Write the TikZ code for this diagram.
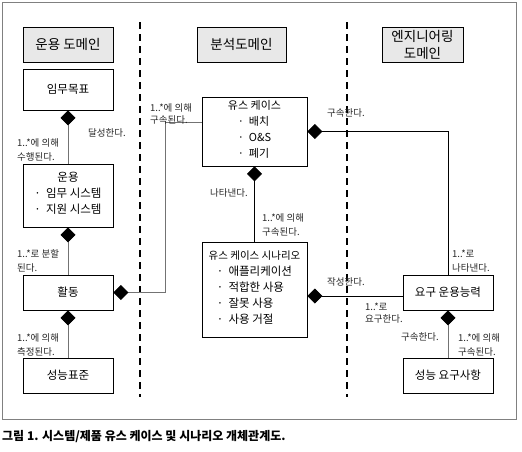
\documentclass[tikz,border=0pt]{standalone}
\usepackage{fontspec}
\setmainfont{Noto Sans CJK KR}
\usetikzlibrary{arrows.meta}
\begin{document}
\begin{tikzpicture}[x=1pt,y=-1pt,
 box/.style={draw, line width=0.7pt, inner sep=0pt, align=center, font=\fontsize{11.5}{16}\selectfont},
 hdr/.style={box, fill=black!9, font=\fontsize{13.5}{17}\selectfont},
 lbl/.style={inner sep=0pt, anchor=west, align=left, text=black!85, font=\fontsize{9.5}{14}\selectfont},
 conn/.style={line width=0.8pt, draw=black!55},
 dia/.style={conn, {Diamond[length=15pt,width=15pt,color=black]}-},
 diak/.style={dia, draw=black, line width=0.7pt},
 dom/.style={line width=1.6pt, dash pattern=on 7pt off 5pt}
]
\useasboundingbox (0,0) rectangle (522,451);
\draw[black!50, line width=0.8pt] (2,2) rectangle (516,419);
% domain separators
\draw[dom] (140,22) -- (140,397);
\draw[dom] (347,22) -- (347,397);
% headers
\node[hdr, minimum width=90pt, minimum height=35pt] (h1) at (68,44.5) {운용 도메인};
\node[hdr, minimum width=89pt, minimum height=35pt] (h2) at (241.5,44.5) {분석도메인};
\node[hdr, minimum width=81pt, minimum height=35pt] (h3) at (422.5,44.5) {엔지니어링\\도메인};
% left column
\node[box, minimum width=90pt, minimum height=41pt] (goal) at (68,89.5) {임무목표};
\node[box, minimum width=90pt, minimum height=63pt] (ops) at (68,195.5) {운용\\\begin{tabular}[t]{@{}l@{}}·\ \ 임무 시스템\\·\ \ 지원 시스템\end{tabular}};
\node[box, minimum width=90pt, minimum height=35pt] (act) at (68,292.5) {활동};
\node[box, minimum width=90pt, minimum height=35pt] (std) at (68,375.5) {성능표준};
% middle column
\node[box, font=\fontsize{11}{16}\selectfont, minimum width=105pt, minimum height=69pt] (uc) at (254.5,131.5) {유스 케이스\\\begin{tabular}[t]{@{}l@{}}·\ \ 배치\\·\ \ O\&S\\·\ \ 폐기\end{tabular}};
\node[box, minimum width=105pt, minimum height=95pt] (scen) at (254.5,289.5) {{\fontsize{10.5}{16}\selectfont 유스 케이스 시나리오}\\\begin{tabular}[t]{@{}l@{}}·\ \ 애플리케이션\\·\ \ 적합한 사용\\·\ \ 잘못 사용\\·\ \ 사용 거절\end{tabular}};
% right column
\node[box, minimum width=90pt, minimum height=35pt] (req) at (448,292.5) {요구 운용능력};
\node[box, minimum width=90pt, minimum height=35pt] (perf) at (448,375.5) {성능 요구사항};
% connectors
\coordinate (bA) at (165,122);
\coordinate (sr) at (0,296);
\draw[dia] (goal.south) -- (ops.north);
\draw[dia] (ops.south) -- (act.north);
\draw[dia] (act.south) -- (std.north);
\draw[dia] (act.east) -| (bA) -- (bA -| uc.west);
\draw[diak] (uc.east) -| (req.north);
\draw[diak] (uc.south) -- (scen.north);
\draw[diak] (scen.east |- sr) -- (req.west |- sr);
\draw[dia] (req.south) -- (perf.north);
% labels
\node[lbl] (l1) at (88,133) {달성한다.};
\node[lbl] (l2) at (17,149.5) {1..*에 의해\\수행된다.};
\node[lbl] (l3) at (17,261) {1..*로 분할\\된다.};
\node[lbl] (l4) at (17,345) {1..*에 의해\\측정된다.};
\node[lbl, font=\fontsize{9.5}{12}\selectfont] (l5) at (150,114) {1..*에 의해\\구속된다.};
\node[lbl] (l6) at (327,113) {구속한다.};
\node[lbl] (l7) at (210,193) {나타낸다.};
\node[lbl] (l8) at (262,225) {1..*에 의해\\구속된다.};
\node[lbl] (l9) at (327,282) {작성한다.};
\node[lbl] (l10) at (452,261) {1..*로\\나타낸다.};
\node[lbl, font=\fontsize{9.5}{12}\selectfont] (l11) at (365,313) {1..*로\\요구한다.};
\node[lbl] (l12) at (401,337) {구속한다.};
\node[lbl] (l13) at (458,345) {1..*에 의해\\구속된다.};
% caption
\node[anchor=west, inner sep=0pt, font=\bfseries\fontsize{12}{14}\selectfont] (cap) at (2,437) {그림 1. 시스템/제품 유스 케이스 및 시나리오 개체관계도.};
\end{tikzpicture}
\end{document}
